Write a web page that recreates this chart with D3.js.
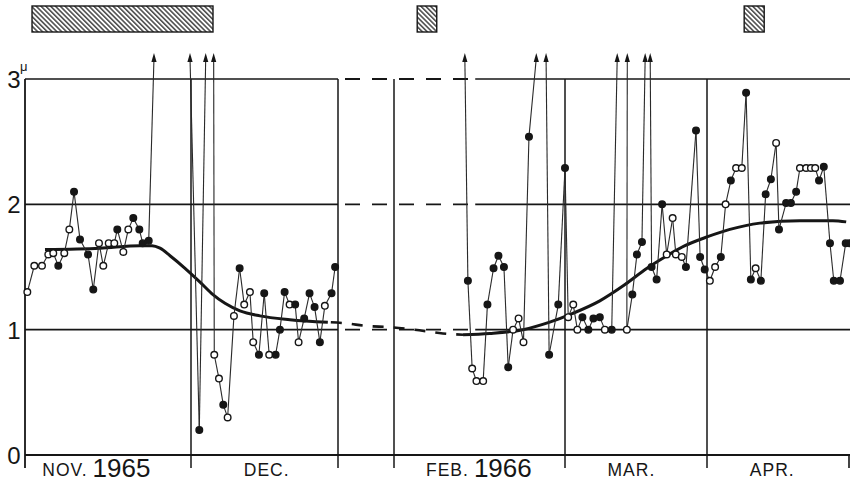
<!DOCTYPE html>
<html><head><meta charset="utf-8">
<script src="https://cdn.jsdelivr.net/npm/d3@7"></script>
<style>body{margin:0;background:#fff}svg{display:block;font-family:"Liberation Sans",Arial,sans-serif}</style>
</head><body>
<svg id="c" width="850" height="483"></svg>
<script>
// ---- DATA (x in days counted from 1 Nov 1965) ----
const dayBreaks = [0, 30, 56.6, 92, 120, 151, 181]; // Nov1, Dec1, panel end, Feb1, Mar1, Apr1, May1
const yTicks = [0, 1, 2, 3];
const yUnit = "\u03bc";
const monthLabels = [
  {main: "NOV.", year: "1965", day: 12.9},
  {main: "DEC.", year: "", day: 43.7},
  {main: "FEB.", year: "1966", day: 105.9},
  {main: "MAR.", year: "", day: 134.5},
  {main: "APR.", year: "", day: 164.7}
];
const hatchedPeriods = [[1.27, 33.98], [95.8, 99.0], [158.8, 163.0]];
const ARROW = null;      // value off the top of the scale
const arrowTop = 3.2;

// 1965 observations: day, value, mark (f = filled, o = open, a = off-scale arrow)
const day1965 = [0.42,1.68,3.07,4.21,5.11,6.02,7.10,8.01,8.86,9.94,11.39,12.34,13.37,14.15,15.13,16.14,16.68,17.77,18.67,19.57,20.66,21.27,22.36,23.31,
  29.82,31.50,32.66,34.10,34.21,35.06,35.84,36.63,37.77,38.80,39.63,40.66,41.26,42.29,43.25,44.15,45.31,46.09,46.94,47.84,48.85,49.47,50.48,51.45,52.36,53.32,54.22,55.43,56.08];
const val1965 = [1.30,1.51,1.51,1.60,1.61,1.51,1.61,1.80,2.10,1.72,1.60,1.32,1.69,1.51,1.69,1.69,1.80,1.62,1.80,1.89,1.80,1.69,1.71,ARROW,
  ARROW,0.20,ARROW,ARROW,0.80,0.61,0.40,0.30,1.11,1.49,1.20,1.30,0.90,0.80,1.29,0.80,0.80,1.00,1.30,1.20,1.20,0.90,1.09,1.29,1.18,0.90,1.19,1.29,1.50];
const mark1965 = ["o","o","o","o","o","f","o","o","f","f","f","f","o","o","o","o","f","o","o","f","f","f","f","a",
  "a","f","a","a","o","o","f","o","o","f","o","o","o","f","f","o","f","f","f","o","f","o","f","f","f","f","o","f","f"];

// 1966 observations
const day1966 = [103.6,104.1,104.8,105.5,106.6,107.3,108.3,109.1,110.0,110.7,111.5,112.4,113.2,114.1,115.3,
  116.9,117.4,118.9,120.0,120.7,121.8,122.7,123.8,125.1,126.2,127.6,128.7,130.2,131.4,
  133.6,133.5,134.7,135.7,136.8,137.5,
  138.6,138.9,140.0,141.2,142.2,143.5,144.2,145.5,146.4,148.6,149.5,150.5,151.6,152.7,153.9,154.9,156.0,157.1,158.3,159.2,160.2,161.2,162.3,163.3,164.4,165.5,166.1,167.6,168.6,169.7,170.5,171.8,172.8,173.7,174.5,175.5,176.8,177.6,178.9,180.1,180.9];
const val1966 = [ARROW,1.39,0.69,0.59,0.59,1.20,1.49,1.59,1.50,0.70,1.00,1.09,0.90,2.54,ARROW,
  ARROW,0.80,1.20,2.29,1.10,1.20,1.00,1.10,1.00,1.09,1.10,1.00,1.00,ARROW,
  ARROW,1.00,1.28,1.60,1.70,ARROW,
  ARROW,1.50,1.40,2.00,1.60,1.89,1.60,1.58,1.50,2.59,1.58,1.48,1.39,1.50,1.58,2.00,2.19,2.29,2.29,2.89,1.40,1.49,1.39,2.08,2.20,2.49,1.80,2.01,2.01,2.10,2.29,2.29,2.29,2.29,2.19,2.30,1.69,1.39,1.39,1.69,1.69];
const mark1966 = ["a","f","o","o","o","f","f","f","f","f","o","o","o","f","a",
  "a","f","f","f","o","o","o","f","f","f","f","o","f","a",
  "a","o","f","f","f","a",
  "a","f","f","f","o","o","o","o","f","f","f","f","o","o","f","o","f","o","o","f","f","o","f","f","f","o","f","f","f","f","o","o","o","o","f","f","f","f","f","f","f"];

// smoothed trend curves
const trend1965Day = [3.61,13.55,20.78,22.95,24.40,26.21,28.92,31.63,33.98,36.15,38.86,42.47,47.89,54.76];
const trend1965Val = [1.64,1.65,1.67,1.67,1.65,1.59,1.49,1.38,1.28,1.21,1.15,1.11,1.08,1.06];
const bridgeDay = [54.76,61.7,74.3,89.5,95.4,100.0,103.3];
const bridgeVal = [1.06,1.05,1.03,1.02,1.00,0.97,0.96];
const trend1966Day = [103.3,107.7,113.1,117.5,121.7,127.6,133.1,137.9,141.8,146.2,151.0,155.8,162.1,170.5,177.4,180.2];
const trend1966Val = [0.96,0.97,1.00,1.06,1.13,1.23,1.36,1.49,1.58,1.67,1.74,1.80,1.85,1.87,1.87,1.86];
const dashedGridFrom = 56.6, dashedGridTo = 105.3;

// ---- DRAWING ----
const ink = "#161616";
const svg = d3.select("#c");
const x = d3.scaleLinear().domain(dayBreaks).range([25, 191, 338, 394, 565, 707, 850]);
const y = d3.scaleLinear().domain([0, 3]).range([455, 79]);

const defs = svg.append("defs");
const pat = defs.append("pattern").attr("id", "hatch").attr("patternUnits", "userSpaceOnUse")
  .attr("width", 3.4).attr("height", 3.4).attr("patternTransform", "rotate(-45)");
pat.append("rect").attr("width", 3.4).attr("height", 3.4).attr("fill", "#fff");
pat.append("line").attr("x1", 0.8).attr("y1", 0).attr("x2", 0.8).attr("y2", 3.4)
  .attr("stroke", "#262626").attr("stroke-width", 1.3);

svg.append("g").selectAll("rect").data(hatchedPeriods).join("rect")
  .attr("x", d => x(d[0])).attr("width", d => x(d[1]) - x(d[0]))
  .attr("y", 6).attr("height", 26)
  .attr("fill", "url(#hatch)").attr("stroke", ink).attr("stroke-width", 1.4);

// grid
const grid = svg.append("g").attr("stroke", ink).attr("stroke-width", 1.6).attr("fill", "none");
yTicks.forEach(v => {
  if (v === 0) {
    grid.append("line").attr("x1", x(0)).attr("x2", x(181)).attr("y1", y(0)).attr("y2", y(0)).attr("stroke-width", 1.8);
  } else {
    grid.append("line").attr("x1", x(0)).attr("x2", x(dashedGridFrom)).attr("y1", y(v)).attr("y2", y(v));
    grid.append("line").attr("x1", x(dashedGridFrom)).attr("x2", x(dashedGridTo)).attr("y1", y(v)).attr("y2", y(v))
      .attr("stroke-dasharray", "15,12").attr("stroke-dashoffset", 20).attr("stroke-width", 1.9);
    grid.append("line").attr("x1", x(dashedGridTo)).attr("x2", x(181)).attr("y1", y(v)).attr("y2", y(v));
  }
});
[0, 30, 56.6, 92, 120, 151].forEach(d => {
  grid.append("line").attr("x1", x(d)).attr("x2", x(d)).attr("y1", y(3)).attr("y2", y(0) + 13).attr("stroke-width", d === 0 ? 1.8 : 1.5);
});
grid.append("line").attr("x1", x(181) - 1).attr("x2", x(181) - 1).attr("y1", y(0)).attr("y2", y(0) + 13);

// y labels
const yl = svg.append("g").attr("fill", ink).attr("font-size", 24).attr("text-anchor", "end");
yTicks.forEach(v => {
  yl.append("text").attr("x", 20.5).attr("y", y(v) + 9).text(v);
});
svg.append("text").attr("x", 20).attr("y", 71).attr("font-size", 13).attr("fill", ink).text(yUnit);

// month labels
const ml = svg.append("g").attr("fill", ink);
monthLabels.forEach(m => {
  const t = ml.append("text").attr("x", x(m.day)).attr("y", 475.5).attr("text-anchor", "middle");
  t.append("tspan").attr("font-size", 17.5).attr("letter-spacing", 1).text(m.main);
  if (m.year) t.append("tspan").attr("font-size", 26).attr("dx", 5).attr("dy", 1.5).text(m.year);
});

// trend curves
const curveLine = d3.line().x(d => x(d[0])).y(d => y(d[1])).curve(d3.curveMonotoneX);
svg.append("path").attr("d", curveLine(d3.zip(trend1965Day, trend1965Val)))
  .attr("fill", "none").attr("stroke", ink).attr("stroke-width", 3);
svg.append("path").attr("d", curveLine(d3.zip(bridgeDay, bridgeVal)))
  .attr("fill", "none").attr("stroke", ink).attr("stroke-width", 2.6).attr("stroke-dasharray", "11,10").attr("stroke-dashoffset", -3);
svg.append("path").attr("d", curveLine(d3.zip(trend1966Day, trend1966Val)))
  .attr("fill", "none").attr("stroke", ink).attr("stroke-width", 3);

// observations
function drawSeries(days, vals, marks) {
  const pts = days.map((d, i) => ({d, v: vals[i] === null ? arrowTop : vals[i], m: marks[i]}));
  const g = svg.append("g");
  for (let i = 1; i < pts.length; i++) {
    const a = pts[i - 1], b = pts[i];
    if (a.m === "a" && b.m === "a") continue;
    g.append("line").attr("x1", x(a.d)).attr("y1", y(a.v) + (a.m === "a" ? 4 : 0))
      .attr("x2", x(b.d)).attr("y2", y(b.v) + (b.m === "a" ? 4 : 0))
      .attr("stroke", "#2a2a2a").attr("stroke-width", 1.1);
  }
  g.selectAll("path.arrow").data(pts.filter(p => p.m === "a")).join("path").attr("class", "arrow")
    .attr("d", p => { const cx = x(p.d), cy = y(p.v); return `M${cx},${cy - 1}L${cx - 2.6},${cy + 8}L${cx + 2.6},${cy + 8}Z`; })
    .attr("fill", ink);
  g.selectAll("circle").data(pts.filter(p => p.m !== "a")).join("circle")
    .attr("cx", p => x(p.d)).attr("cy", p => y(p.v)).attr("r", 3.3)
    .attr("fill", p => p.m === "f" ? ink : "#fff")
    .attr("stroke", ink).attr("stroke-width", 1.4);
}
drawSeries(day1965, val1965, mark1965);
drawSeries(day1966, val1966, mark1966);
</script>
</body></html>
